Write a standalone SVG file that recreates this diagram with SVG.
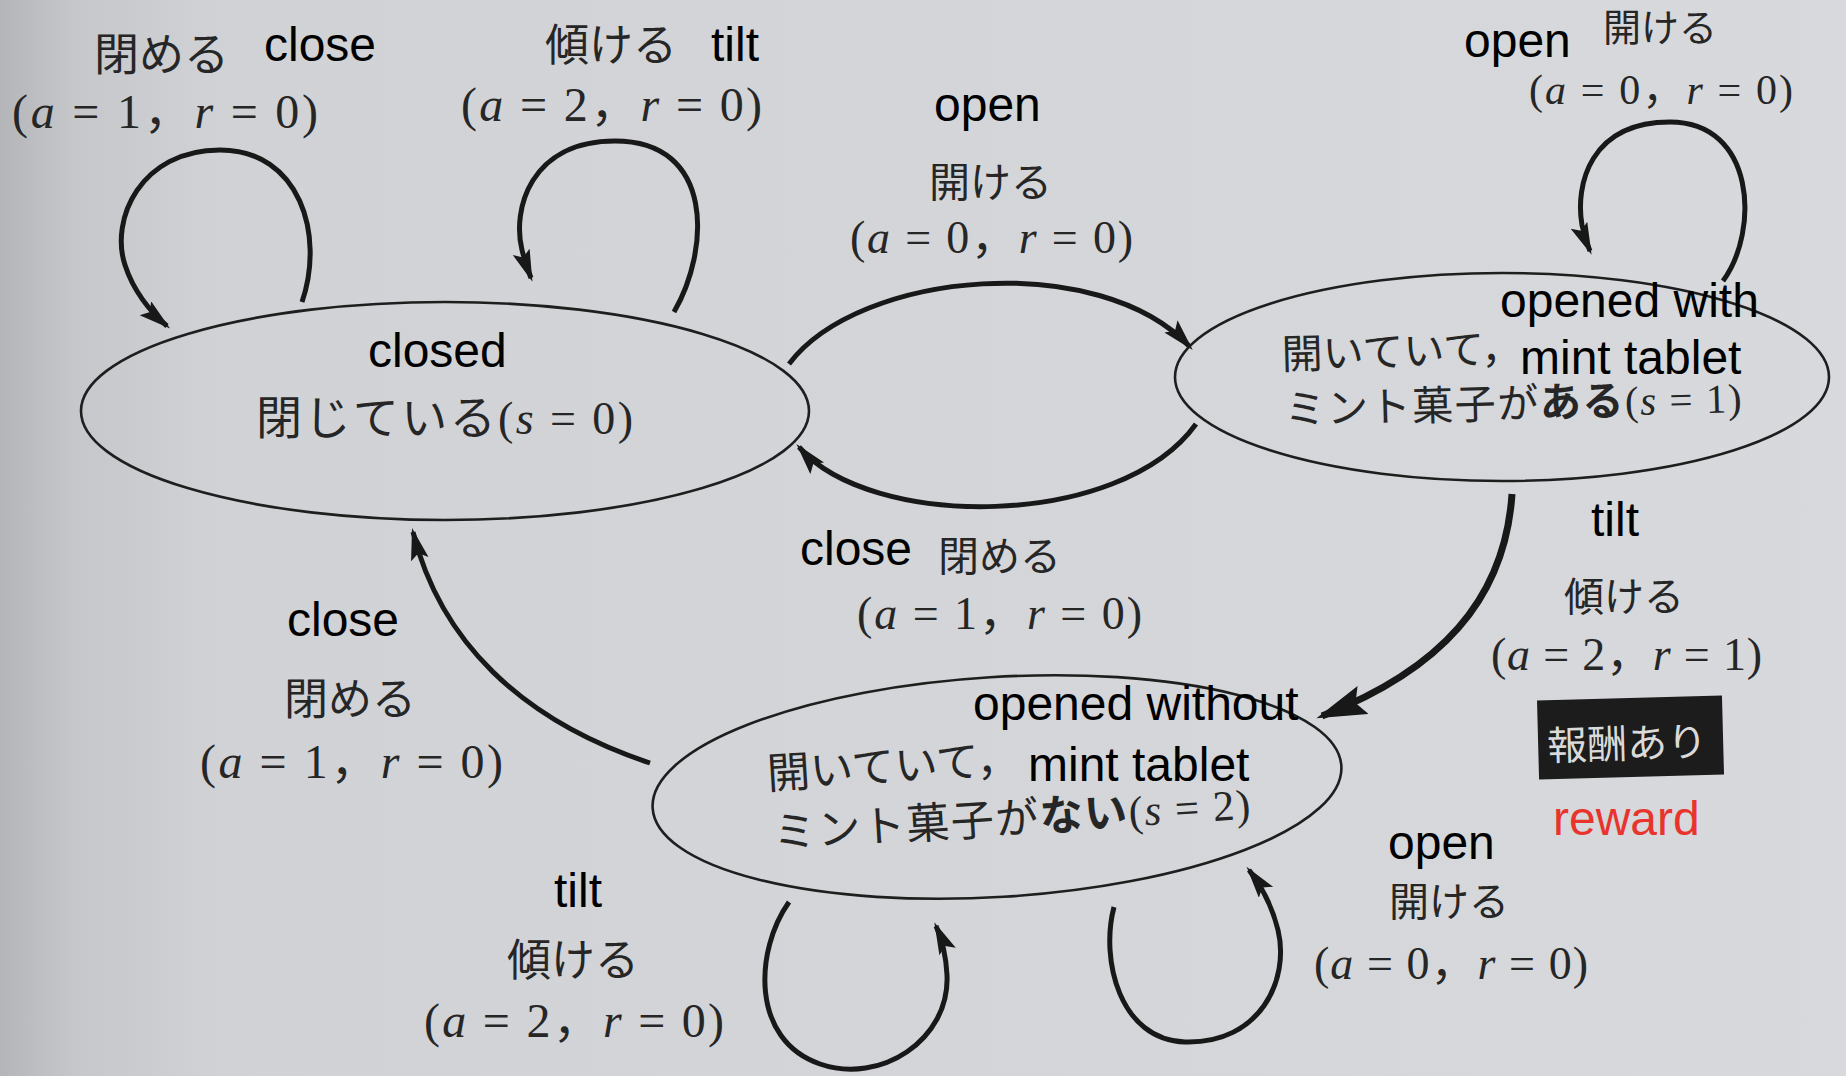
<svg xmlns="http://www.w3.org/2000/svg" width="1846" height="1076" viewBox="0 0 1846 1076">
<style>
.en{font-family:"Liberation Sans",Arial,sans-serif;font-size:48px;fill:#000}
.jp{font-family:"Noto Sans CJK JP","Noto Sans CJK SC",sans-serif;fill:#262626}
.fm{font-family:"Liberation Serif","Noto Sans CJK JP",serif;fill:#262626}
.it{font-style:italic}
.b{font-weight:bold}
.node{fill:none;stroke:#1e1e1e;stroke-width:2.6}
.edge{fill:none;stroke:#181818;stroke-width:5}
.thick{fill:none;stroke:#181818;stroke-width:7}
</style>
<defs>
<linearGradient id="bg" x1="0" y1="0" x2="1" y2="0">
<stop offset="0" stop-color="#b4b5b8"/>
<stop offset="0.04" stop-color="#c5c7ca"/>
<stop offset="0.12" stop-color="#d0d2d5"/>
<stop offset="1" stop-color="#d7d9dc"/>
</linearGradient>
<marker id="ah" markerUnits="userSpaceOnUse" markerWidth="40" markerHeight="24" refX="28" refY="9" orient="auto">
<path d="M0,0 L32,9 L0,18 L6,9 Z" fill="#181818"/>
</marker>
<marker id="ahbig" markerUnits="userSpaceOnUse" markerWidth="60" markerHeight="40" refX="44" refY="15" orient="auto">
<path d="M0,0 L50,15 L0,30 L8,15 Z" fill="#181818"/>
</marker>
</defs>
<rect x="0" y="0" width="1846" height="1076" fill="url(#bg)"/>

<g id="connectors">
<path class="edge" marker-end="url(#ah)" d="M302,302 C325,235 300,150 220,150 C140,150 110,220 125,265 C133,290 150,312 167,326"/>
<path class="edge" marker-end="url(#ah)" d="M674,312 C710,250 715,141 615,141 C530,141 512,210 522,250 C525,262 528,270 531,278"/>
<path class="edge" marker-end="url(#ah)" d="M789,364 C860,270 1100,250 1190,347"/>
<path class="edge" marker-end="url(#ah)" d="M1196,424 C1120,530 870,530 799,447"/>
<path class="thick" marker-end="url(#ahbig)" d="M1512,494 C1505,600 1440,670 1322,716"/>
<path class="edge" marker-end="url(#ah)" d="M650,763 C520,720 440,640 413,532"/>
<path class="edge" marker-end="url(#ah)" d="M1723,281 C1760,230 1755,122 1670,122 C1590,122 1575,185 1582,225 C1584,235 1587,244 1590,251"/>
<path class="edge" marker-end="url(#ah)" d="M789,902 C755,950 750,1040 820,1064 C880,1085 950,1040 947,975 C946,955 941,937 936,926"/>
<path class="edge" marker-end="url(#ah)" d="M1114,907 C1100,960 1120,1040 1185,1042 C1260,1044 1290,980 1278,930 C1272,905 1262,887 1249,870"/>
</g>

<g id="node-closed">
<ellipse class="node" cx="445" cy="411" rx="364" ry="109"/>
<text class="en" x="368" y="367">closed</text>
<text class="jp" x="256" y="434" font-size="46" textLength="377" lengthAdjust="spacing">閉じている<tspan class="fm">(<tspan class="it">s</tspan> = 0)</tspan></text>
</g>

<g id="node-opened-with">
<ellipse class="node" cx="1502" cy="377" rx="327" ry="104"/>
<text class="jp" font-size="41" transform="rotate(-1.5 1282 369)" x="1282" y="369">開いていて，</text>
<text class="jp" font-size="41" transform="rotate(-1.5 1285 424)" x="1285" y="424" textLength="457" lengthAdjust="spacing">ミント菓子が<tspan class="b">ある</tspan><tspan class="fm">(<tspan class="it">s</tspan> = 1)</tspan></text>
<text class="en" x="1500" y="317">opened with</text>
<text class="en" x="1520" y="374">mint tablet</text>
</g>

<g id="node-opened-without">
<ellipse class="node" cx="997" cy="787" rx="345" ry="110" transform="rotate(-3.5 997 787)"/>
<text class="jp" font-size="43" transform="rotate(-3.5 768 789)" x="768" y="789">開いていて，</text>
<text class="jp" font-size="43" transform="rotate(-3.5 774 848)" x="774" y="848" textLength="478" lengthAdjust="spacing">ミント菓子が<tspan class="b">ない</tspan><tspan class="fm">(<tspan class="it">s</tspan> = 2)</tspan></text>
<text class="en" x="973" y="720">opened without</text>
<text class="en" x="1028" y="781">mint tablet</text>
</g>

<g id="label-closed-close">
<text class="jp" x="94" y="71" font-size="45">閉める</text>
<text class="en" x="264" y="61">close</text>
<text class="fm" x="12" y="128" font-size="48" textLength="306" lengthAdjust="spacing">(<tspan class="it">a</tspan> = 1，<tspan class="it">r</tspan> = 0)</text>
</g>

<g id="label-closed-tilt">
<text class="jp" x="545" y="61" font-size="44">傾ける</text>
<text class="en" x="711" y="61">tilt</text>
<text class="fm" x="461" y="121" font-size="48" textLength="301" lengthAdjust="spacing">(<tspan class="it">a</tspan> = 2，<tspan class="it">r</tspan> = 0)</text>
</g>

<g id="label-open-0-1">
<text class="en" x="934" y="121">open</text>
<text class="jp" x="929" y="197" font-size="41">開ける</text>
<text class="fm" x="850" y="253" font-size="46" textLength="283" lengthAdjust="spacing">(<tspan class="it">a</tspan> = 0，<tspan class="it">r</tspan> = 0)</text>
</g>

<g id="label-open-1-1">
<text class="en" x="1464" y="57">open</text>
<text class="jp" x="1603" y="41" font-size="38">開ける</text>
<text class="fm" x="1529" y="104" font-size="42" textLength="264" lengthAdjust="spacing">(<tspan class="it">a</tspan> = 0，<tspan class="it">r</tspan> = 0)</text>
</g>

<g id="label-close-1-0">
<text class="en" x="800" y="565">close</text>
<text class="jp" x="938" y="571" font-size="41">閉める</text>
<text class="fm" x="857" y="629" font-size="46" textLength="285" lengthAdjust="spacing">(<tspan class="it">a</tspan> = 1，<tspan class="it">r</tspan> = 0)</text>
</g>

<g id="label-tilt-1-2">
<text class="en" x="1591" y="536">tilt</text>
<text class="jp" x="1564" y="611" font-size="40">傾ける</text>
<text class="fm" x="1491" y="670" font-size="46" textLength="271" lengthAdjust="spacing">(<tspan class="it">a</tspan> = 2，<tspan class="it">r</tspan> = 1)</text>
<rect x="1538" y="698" width="185" height="79" fill="#1c1c1c" transform="rotate(-1.5 1630 737)"/>
<text class="jp" x="1547" y="758" font-size="40" style="fill:#dadada" transform="rotate(-1.5 1630 737)">報酬あり</text>
<text class="en" x="1553" y="835" style="fill:#e8342c">reward</text>
</g>

<g id="label-open-2-2">
<text class="en" x="1388" y="859">open</text>
<text class="jp" x="1389" y="916" font-size="40">開ける</text>
<text class="fm" x="1314" y="979" font-size="46" textLength="274" lengthAdjust="spacing">(<tspan class="it">a</tspan> = 0，<tspan class="it">r</tspan> = 0)</text>
</g>

<g id="label-close-2-0">
<text class="en" x="287" y="636">close</text>
<text class="jp" x="284" y="715" font-size="44">閉める</text>
<text class="fm" x="200" y="778" font-size="48" textLength="303" lengthAdjust="spacing">(<tspan class="it">a</tspan> = 1，<tspan class="it">r</tspan> = 0)</text>
</g>

<g id="label-tilt-2-2">
<text class="en" x="554" y="907">tilt</text>
<text class="jp" x="507" y="976" font-size="44">傾ける</text>
<text class="fm" x="424" y="1037" font-size="48" textLength="300" lengthAdjust="spacing">(<tspan class="it">a</tspan> = 2，<tspan class="it">r</tspan> = 0)</text>
</g>
</svg>
